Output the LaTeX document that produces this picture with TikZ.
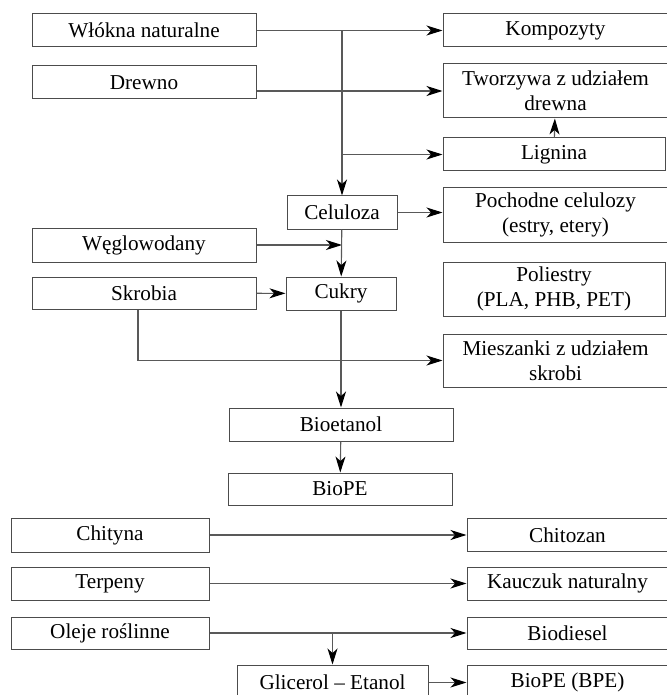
\documentclass[tikz,border=0pt]{standalone}
\usepackage{fontspec}
\setmainfont{Liberation Serif}
\usepackage{tikz}
\usetikzlibrary{positioning,arrows.meta}
\usepackage{xcolor}

\begin{document}
\begin{tikzpicture}[
    x=0.5pt, y=-0.5pt,
    box/.style={draw=black!70,line width=0.5pt,inner sep=0pt,align=center,
      font=\fontsize{10.6}{12.5}\selectfont,minimum height=16.5pt},
    lbox/.style={box,minimum width=112pt},
    rbox/.style={box,minimum width=112.5pt},
    sbox/.style={box,minimum width=99pt},
    cbox/.style={box,minimum width=55pt},
    arr/.style={-{Stealth[length=8pt,width=5pt,inset=2.3pt,black]},draw=black!65,line width=0.55pt},
  ]
    \useasboundingbox (0,0) rectangle (666,695);

    % upper block
    \node[lbox] (wlokna) at (144,30.5) {Włókna naturalne};
    \node[rbox] (kompo) at (555.5,30.5) {Kompozyty};
    \node[lbox] (drewno) at (144,82.5) {Drewno};
    \node[rbox,minimum height=27pt] (tworz) at (555.5,91) {Tworzywa z udziałem\\drewna};
    \node[rbox,minimum width=111pt] (lignina) at (554,154.5) {Lignina};
    \node[cbox] (celul) at (342,212.5) {Celuloza};
    \node[rbox,minimum height=27pt] (pochodne) at (555.5,215) {Pochodne celulozy\\(estry, etery)};
    \node[lbox,minimum height=17pt] (wegl) at (144,245) {Węglowodany};
    \node[lbox,minimum height=16pt] (skrobia) at (144,293) {Skrobia};
    \node[cbox] (cukry) at (341,293.5) {Cukry};
    \node[rbox,minimum width=111pt,minimum height=27pt] (poli) at (554,289) {Poliestry\\(PLA, PHB, PET)};
    \node[rbox,minimum height=26.5pt] (miesz) at (555.5,360.5) {Mieszanki z udziałem\\skrobi};
    \node[lbox] (bioet) at (341,424.5) {Bioetanol};
    \node[lbox,minimum height=16pt] (biope) at (340,489) {BioPE};

    % lower block
    \node[sbox,minimum height=17pt] (chityna) at (110,535) {Chityna};
    \node[sbox,minimum width=100.5pt] (chitozan) at (567.5,535) {Chitozan};
    \node[sbox] (terpeny) at (110,583.5) {Terpeny};
    \node[sbox,minimum width=100.5pt] (kauczuk) at (567.5,583.5) {Kauczuk naturalny};
    \node[sbox,minimum height=16pt] (oleje) at (110,633) {Oleje roślinne};
    \node[sbox,minimum width=100.5pt,minimum height=16pt] (biodiesel) at (567.5,633) {Biodiesel};
    \node[box,minimum width=95.5pt,minimum height=17.5pt] (glicerol) at (332.5,682.5) {Glicerol -- Etanol};
    \node[sbox,minimum width=100.5pt,minimum height=17.5pt] (bpe) at (567.5,682.5) {BioPE (BPE)};

    \draw[arr] (wlokna) -- (kompo);
    \draw[arr] (wlokna.east -| celul.north) -- (celul);
    \draw[arr] (drewno.east |- tworz.west) -- (tworz.west);
    \draw[arr] (celul.north |- lignina.west) -- (lignina.west);
    \draw[arr] (lignina) -- (tworz);
    \draw[arr] (celul.east) -- (celul.east -| pochodne.west);
    \draw[arr] (wegl.east) -- (wegl.east -| celul.south);
    \draw[arr] (celul) -- (cukry);
    \draw[arr] (skrobia) -- (cukry);
    \draw[arr] ([xshift=-3pt]skrobia.south) |- (miesz.west);
    \draw[arr] (cukry) -- (bioet);
    \draw[arr] (bioet) -- (biope);

    \draw[arr] (chityna) -- (chitozan);
    \draw[arr] (terpeny) -- (kauczuk);
    \draw[arr] (oleje) -- (biodiesel);
    \draw[arr] (oleje.east -| glicerol.north) -- (glicerol);
    \draw[arr] (glicerol.east) -- (glicerol.east -| bpe.west);
  \end{tikzpicture}
\end{document}
